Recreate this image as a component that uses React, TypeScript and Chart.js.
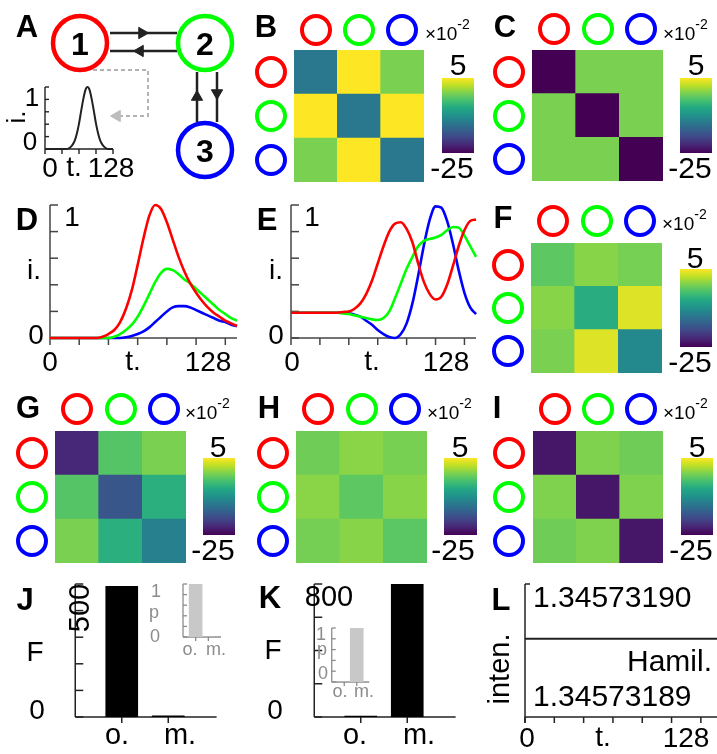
import React, { useEffect, useRef } from 'react';
import { Chart, registerables } from 'chart.js';

Chart.register(...registerables);

const FONT = '"Liberation Sans", Arial, Helvetica, sans-serif';
const RED = '#ff0000';
const GREEN = '#00ff00';
const BLUE = '#0000ff';

// ---------------- data ----------------
const TIME = [0, 4, 8, 12, 16, 20, 24, 28, 32, 36, 40, 44, 48, 52, 56, 60, 64, 68, 72, 76, 80, 84, 88, 92, 96, 100, 104, 108, 112, 116, 120, 124, 128];

// panel A inset: input pulse intensity
const PULSE = [0, 0, 0, 0, 0, 0, 0, 0, 0, 0, 0, 0.005, 0.03, 0.07, 0.135, 0.25, 0.41, 0.61, 0.8, 0.95, 1, 0.95, 0.8, 0.61, 0.41, 0.25, 0.135, 0.07, 0.03, 0.005, 0, 0, 0];

// panel D: intensities of the three nodes
const D_RED = [0, 0, 0, 0, 0, 0, 0, 0, 0, 0.01, 0.03, 0.06, 0.12, 0.22, 0.36, 0.55, 0.75, 0.92, 1.0, 0.97, 0.87, 0.74, 0.61, 0.5, 0.41, 0.34, 0.28, 0.23, 0.19, 0.16, 0.13, 0.11, 0.09];
const D_GREEN = [0, 0, 0, 0, 0, 0, 0, 0, 0, 0, 0, 0.01, 0.03, 0.06, 0.1, 0.16, 0.24, 0.33, 0.42, 0.49, 0.52, 0.51, 0.48, 0.44, 0.41, 0.37, 0.33, 0.29, 0.25, 0.21, 0.18, 0.15, 0.13];
const D_BLUE = [0, 0, 0, 0, 0, 0, 0, 0, 0, 0, 0, 0, 0, 0.005, 0.015, 0.03, 0.05, 0.08, 0.12, 0.16, 0.2, 0.23, 0.24, 0.24, 0.23, 0.21, 0.19, 0.17, 0.15, 0.13, 0.12, 0.1, 0.09];

// panel E
const E_RED = [0.19, 0.19, 0.19, 0.19, 0.19, 0.19, 0.19, 0.19, 0.19, 0.195, 0.2, 0.22, 0.26, 0.33, 0.43, 0.56, 0.69, 0.8, 0.86, 0.87, 0.82, 0.72, 0.56, 0.42, 0.33, 0.29, 0.31, 0.4, 0.54, 0.69, 0.81, 0.88, 0.89];
const E_GREEN = [0.19, 0.19, 0.19, 0.19, 0.19, 0.19, 0.19, 0.19, 0.19, 0.185, 0.18, 0.17, 0.16, 0.15, 0.14, 0.135, 0.15, 0.2, 0.3, 0.41, 0.52, 0.61, 0.69, 0.73, 0.745, 0.755, 0.775, 0.81, 0.835, 0.83, 0.77, 0.69, 0.61];
const E_BLUE = [0.19, 0.19, 0.19, 0.19, 0.19, 0.19, 0.19, 0.19, 0.19, 0.19, 0.185, 0.175, 0.16, 0.13, 0.1, 0.06, 0.03, 0.008, 0, 0.03, 0.11, 0.26, 0.47, 0.7, 0.89, 0.99, 0.98, 0.88, 0.71, 0.51, 0.34, 0.23, 0.18];

// heat maps (x10^-2), rows top -> bottom, columns left -> right
const HEAT_LABELS = ['1', '2', '3'];
const HEAT_B = [[-13, 5, -1], [5, -13, 5], [-1, 5, -13]];
const HEAT_C = [[-25, -1, -1], [-1, -25, -1], [-1, -1, -25]];
const HEAT_F = [[-2.6, -0.4, -1.2], [-0.4, -6.4, 3.5], [-1, 3.5, -11]];
const HEAT_G = [[-21.7, -3.1, -1], [-3.1, -17, -6.1], [-1, -6.1, -12.1]];
const HEAT_H = [[-1.6, -0.3, -1.1], [-0.3, -2.6, -0.4], [-1.3, -0.4, -2.8]];
const HEAT_I = [[-23.2, -0.8, -1.6], [-0.8, -23.2, -0.8], [-1.6, -0.8, -23.2]];
const CBAR_MIN = -25;
const CBAR_MAX = 5;

// bar panels
const BAR_CATEGORIES = ['o.', 'm.'];
const J_FREQ = [590, 5];
const J_PROB = [1, 0];
const K_FREQ = [5, 800];
const K_PROB = [0, 1];

// panel L
const L_TIME = [0, 131];
const L_HAMIL = [1.345731895, 1.345731895];
const L_MIN = 1.345731885;
const L_MAX = 1.345731902;

// panel A network (diagram units)
const NODE_LABELS = ['1', '2', '3'];
const NODE_X = [80, 205, 205];
const NODE_Y = [43, 43, 150];
const NODE_COLORS = [RED, GREEN, BLUE];
const EDGE_X1 = [110, 110, 197, 217];
const EDGE_Y1 = [33, 51, 122, 72];
const EDGE_X2 = [177, 177, 197, 217];
const EDGE_Y2 = [33, 51, 72, 122];
const ARROW_X = [142, 140, 197, 217];
const ARROW_Y = [33, 51, 97, 93];
const ARROW_ROT = [90, -90, 0, 180];
const PROBE_X = [93, 148, 148, 118];
const PROBE_Y = [70, 70, 116, 116];
const PROBE_ARROW_X = [117];
const PROBE_ARROW_Y = [116];

// ---------------- helpers ----------------
const VIRIDIS = [[68, 1, 84], [72, 36, 117], [65, 68, 135], [53, 95, 141], [42, 120, 142], [33, 145, 140], [34, 168, 132], [68, 191, 112], [122, 209, 81], [189, 223, 38], [253, 231, 37]];

function viridis(t: number) {
  const c = Math.max(0, Math.min(1, t)) * (VIRIDIS.length - 1);
  const i = Math.min(VIRIDIS.length - 2, Math.floor(c));
  const f = c - i;
  const a = VIRIDIS[i];
  const b = VIRIDIS[i + 1];
  const m = (k: number) => Math.round(a[k] + (b[k] - a[k]) * f);
  return `rgb(${m(0)},${m(1)},${m(2)})`;
}

type Box = [number, number, number, number];

function base(x: any, y: any, plugins: any[] = []) {
  return {
    responsive: false,
    maintainAspectRatio: false,
    animation: false,
    events: [],
    plugins: { legend: { display: false }, tooltip: { enabled: false } },
    scales: { x: { display: false, ...x }, y: { display: false, ...y } },
    _plugins: plugins,
  };
}

function axesPlugin(spec: any) {
  return {
    id: 'axesDraw',
    beforeDatasetsDraw(chart: any) {
      const ctx = chart.ctx;
      const xs = chart.scales.x;
      const ys = chart.scales.y;
      ctx.save();
      ctx.strokeStyle = spec.color;
      ctx.lineWidth = spec.width;
      const seg = (x1: number, y1: number, x2: number, y2: number) => {
        ctx.beginPath();
        ctx.moveTo(x1, y1);
        ctx.lineTo(x2, y2);
        ctx.stroke();
      };
      if (spec.y) {
        const x = xs.getPixelForValue(spec.y.at);
        seg(x, ys.getPixelForValue(spec.y.from) + (spec.y.ext || 0), x, ys.getPixelForValue(spec.y.to));
        spec.y.ticks.forEach((t: number) => {
          const y = ys.getPixelForValue(t);
          seg(x, y, x + spec.y.len, y);
        });
      }
      if (spec.x) {
        const y = ys.getPixelForValue(spec.x.at);
        seg(xs.getPixelForValue(spec.x.from), y, xs.getPixelForValue(spec.x.to), y);
        spec.x.ticks.forEach((t: number) => {
          const x = xs.getPixelForValue(t);
          seg(x, y, x, y + spec.x.len);
        });
      }
      ctx.restore();
    },
  };
}

function ChartBox({ canvas, plot, make }: { canvas: Box; plot: Box; make: () => any }) {
  const ref = useRef<HTMLCanvasElement | null>(null);
  useEffect(() => {
    const cfg = make();
    const plugins = cfg.options._plugins || [];
    delete cfg.options._plugins;
    cfg.plugins = plugins;
    cfg.options.layout = {
      autoPadding: false,
      padding: {
        left: plot[0] - canvas[0],
        top: plot[1] - canvas[1],
        right: canvas[0] + canvas[2] - plot[0] - plot[2],
        bottom: canvas[1] + canvas[3] - plot[1] - plot[3],
      },
    };
    const chart = new Chart(ref.current as HTMLCanvasElement, cfg);
    return () => chart.destroy();
  }, []);
  return (
    <canvas
      ref={ref}
      width={canvas[2]}
      height={canvas[3]}
      style={{ position: 'absolute', left: canvas[0], top: canvas[1], width: canvas[2], height: canvas[3] }}
    />
  );
}

function T({ x, y, children, size = 29, bold = false, color = '#000', align = 'c', rot = 0 }: any) {
  const tx = align === 'l' ? '0' : align === 'r' ? '-100%' : '-50%';
  return (
    <div
      style={{
        position: 'absolute',
        left: x,
        top: y,
        transform: `translate(${tx}, -50%) rotate(${rot}deg)`,
        fontFamily: FONT,
        fontSize: size,
        fontWeight: bold ? 700 : 400,
        lineHeight: 1,
        color,
        whiteSpace: 'nowrap',
      }}
    >
      {children}
    </div>
  );
}

function Ring({ x, y, color }: { x: number; y: number; color: string }) {
  return (
    <div
      style={{
        position: 'absolute',
        left: x - 16,
        top: y - 16,
        width: 32,
        height: 32,
        boxSizing: 'border-box',
        border: `4.5px solid ${color}`,
        borderRadius: '50%',
      }}
    />
  );
}

const pts = (xs: number[], ys: number[]) => xs.map((x, i) => ({ x, y: ys[i] }));

// ---------------- configs ----------------
function heatConfig(M: number[][]) {
  const rows = [2, 1, 0];
  return {
    type: 'bar',
    data: {
      labels: HEAT_LABELS,
      datasets: rows.map((r) => ({
        data: M[r].map(() => 1),
        backgroundColor: M[r].map((v) => viridis((v - CBAR_MIN) / (CBAR_MAX - CBAR_MIN))),
        borderWidth: 0,
        barPercentage: 1,
        categoryPercentage: 1,
      })),
    },
    options: base({ stacked: true }, { stacked: true, min: 0, max: 3 }),
  };
}

function cbarConfig() {
  return {
    type: 'bar',
    data: {
      labels: ['c'],
      datasets: [
        {
          data: [[CBAR_MIN, CBAR_MAX]],
          backgroundColor: (c: any) => {
            const a = c.chart.chartArea;
            if (!a) return '#888';
            const g = c.chart.ctx.createLinearGradient(0, a.bottom, 0, a.top);
            VIRIDIS.forEach((rgb, i) => g.addColorStop(i / (VIRIDIS.length - 1), `rgb(${rgb.join(',')})`));
            return g;
          },
          borderWidth: 0,
          barPercentage: 1,
          categoryPercentage: 1,
        },
      ],
    },
    options: base({}, { min: CBAR_MIN, max: CBAR_MAX }),
  };
}

function networkConfig() {
  const datasets: any[] = [];
  datasets.push({
    type: 'scatter',
    data: pts(NODE_X, NODE_Y),
    pointRadius: 27,
    pointBorderWidth: 4.5,
    pointBorderColor: NODE_COLORS,
    pointBackgroundColor: '#ffffff',
    clip: false,
  });
  datasets.push({
    type: 'scatter',
    data: pts(ARROW_X, ARROW_Y),
    pointStyle: 'triangle',
    pointRotation: ARROW_ROT,
    pointRadius: 6.5,
    pointBorderWidth: 1,
    pointBackgroundColor: '#222',
    pointBorderColor: '#222',
    clip: false,
  });
  datasets.push({
    type: 'scatter',
    data: pts(PROBE_ARROW_X, PROBE_ARROW_Y),
    pointStyle: 'triangle',
    pointRotation: -90,
    pointRadius: 6.5,
    pointBorderWidth: 1,
    pointBackgroundColor: '#bdbdbd',
    pointBorderColor: '#bdbdbd',
    clip: false,
  });
  EDGE_X1.forEach((_, i) => {
    datasets.push({
      type: 'line',
      data: [{ x: EDGE_X1[i], y: EDGE_Y1[i] }, { x: EDGE_X2[i], y: EDGE_Y2[i] }],
      borderColor: '#222',
      borderWidth: 2.5,
      pointRadius: 0,
      clip: false,
    });
  });
  datasets.push({
    type: 'line',
    data: pts(PROBE_X, PROBE_Y),
    borderColor: '#b3b3b3',
    borderWidth: 2,
    borderDash: [4, 3],
    pointRadius: 0,
    clip: false,
  });
  return {
    type: 'scatter',
    data: { datasets },
    options: base({ type: 'linear', min: 0, max: 240 }, { type: 'linear', min: 0, max: 190, reverse: true }),
  };
}

function linesConfig(series: { data: number[]; color: string }[], xMax: number, yMin: number, yMax: number, axes: any, width = 2.6) {
  return {
    type: 'line',
    data: {
      datasets: series.map((s) => ({
        data: pts(TIME, s.data),
        borderColor: s.color,
        borderWidth: width,
        pointRadius: 0,
        cubicInterpolationMode: 'monotone',
        clip: false,
      })),
    },
    options: base({ type: 'linear', min: 0, max: xMax }, { min: yMin, max: yMax }, [axesPlugin(axes)]),
  };
}

function barsConfig(values: number[], color: string, yMax: number, thickness: number, axes: any) {
  return {
    type: 'bar',
    data: {
      datasets: [
        {
          data: values.map((v, i) => ({ x: i + 1, y: v })),
          backgroundColor: color,
          borderWidth: 0,
          barThickness: thickness,
        },
      ],
    },
    options: base({ type: 'linear', min: 0, max: 3 }, { min: 0, max: yMax }, [axesPlugin(axes)]),
  };
}

function lConfig() {
  return {
    type: 'line',
    data: {
      datasets: [
        { data: pts(L_TIME, L_HAMIL), borderColor: '#222', borderWidth: 2.2, pointRadius: 0, clip: false },
      ],
    },
    options: base({ type: 'linear', min: 0, max: 131 }, { min: L_MIN, max: L_MAX }, [
      axesPlugin({
        color: '#222',
        width: 1.5,
        y: { at: 0, from: L_MIN, to: L_MAX, ext: 6, ticks: [L_MAX], len: 5 },
        x: { at: L_MIN, from: 0, to: 131, ticks: [0, 20, 40, 60, 80, 100, 120], len: 6 },
      }),
    ]),
  };
}

// ---------------- panels ----------------
function Exp({ x, y }: { x: number; y: number }) {
  return (
    <T x={x} y={y} size={19} align="l">
      ×10<span style={{ fontSize: 14, position: 'relative', top: -11 }}>-2</span>
    </T>
  );
}

function HeatPanel({ letter, lp, M, plot, cbar, ringTop, ringLeft, five, m25, exp }: any) {
  const [px, py, pw, ph] = plot;
  return (
    <>
      <ChartBox canvas={plot} plot={plot} make={() => heatConfig(M)} />
      <ChartBox canvas={cbar} plot={cbar} make={() => cbarConfig()} />
      {NODE_COLORS.map((c, i) => (
        <Ring key={'t' + i} x={px + (pw * (i + 0.5)) / 3} y={ringTop} color={c} />
      ))}
      {NODE_COLORS.map((c, i) => (
        <Ring key={'l' + i} x={ringLeft} y={py + (ph * (i + 0.5)) / 3} color={c} />
      ))}
      <T x={lp[0]} y={lp[1]} size={31} bold>{letter}</T>
      <T x={five[0]} y={five[1]} size={30}>5</T>
      <T x={m25[0]} y={m25[1]} size={30}>-25</T>
      <Exp x={exp[0]} y={exp[1]} />
    </>
  );
}

const TICKS_01 = [0, 0.2, 0.4, 0.6, 0.8, 1];
const TICKS_T = [0, 20, 40, 60, 80, 100, 120];

export default function App() {
  return (
    <div style={{ position: 'fixed', left: 0, top: 0, width: 717, height: 754, background: '#fff', overflow: 'hidden' }}>
      {/* Panel A */}
      <ChartBox canvas={[0, 0, 240, 190]} plot={[0, 0, 240, 190]} make={networkConfig} />
      <ChartBox
        canvas={[36, 80, 84, 76]}
        plot={[45, 87, 68, 62]}
        make={() =>
          linesConfig([{ data: PULSE, color: '#222' }], 128, 0, 1, {
            color: '#222',
            width: 1.4,
            y: { at: 0, from: 0, to: 1, ticks: TICKS_01, len: 4 },
            x: { at: 0, from: 0, to: 128, ticks: [0, 32, 64, 96, 128], len: 5 },
          }, 2)
        }
      />
      {NODE_LABELS.map((s, i) => (
        <T key={s} x={NODE_X[i]} y={NODE_Y[i] + 1} size={32} bold>{s}</T>
      ))}
      <T x={27} y={26} size={31} bold>A</T>
      <T x={32} y={97} size={26}>1</T>
      <T x={30} y={141} size={26}>0</T>
      <T x={16} y={117} size={26} rot={-90}>i.</T>
      <T x={50} y={168} size={28}>0</T>
      <T x={74} y={167} size={28}>t.</T>
      <T x={111} y={168} size={28}>128</T>

      {/* Heat panels */}
      <HeatPanel letter="B" lp={[266, 26]} M={HEAT_B} plot={[294, 50, 130, 132]} cbar={[442, 78, 32, 75]} ringTop={30} ringLeft={271} five={[458, 65]} m25={[452, 168]} exp={[425, 33]} />
      <HeatPanel letter="C" lp={[505, 26]} M={HEAT_C} plot={[532, 50, 131, 131]} cbar={[680, 78, 32, 75]} ringTop={29} ringLeft={509} five={[696, 65]} m25={[690, 168]} exp={[663, 33]} />
      <HeatPanel letter="F" lp={[503, 217]} M={HEAT_F} plot={[531, 243, 131, 130]} cbar={[680, 269, 32, 78]} ringTop={221} ringLeft={508} five={[695, 258]} m25={[690, 362]} exp={[662, 223]} />
      <HeatPanel letter="G" lp={[28, 407]} M={HEAT_G} plot={[55, 431, 131, 132]} cbar={[203, 458, 32, 77]} ringTop={409} ringLeft={32} five={[218, 447]} m25={[213, 550]} exp={[185, 412]} />
      <HeatPanel letter="H" lp={[269, 407]} M={HEAT_H} plot={[296, 431, 131, 132]} cbar={[444, 458, 33, 77]} ringTop={409} ringLeft={273} five={[460, 447]} m25={[453, 550]} exp={[427, 412]} />
      <HeatPanel letter="I" lp={[497, 407]} M={HEAT_I} plot={[533, 431, 130, 132]} cbar={[681, 458, 32, 77]} ringTop={409} ringLeft={509} five={[697, 447]} m25={[691, 550]} exp={[663, 412]} />

      {/* Panel D */}
      <ChartBox
        canvas={[40, 198, 200, 152]}
        plot={[50, 205, 187, 133]}
        make={() =>
          linesConfig(
            [
              { data: D_RED, color: RED },
              { data: D_GREEN, color: GREEN },
              { data: D_BLUE, color: BLUE },
            ],
            128, 0, 1,
            { color: '#444', width: 1.5, y: { at: 0, from: 0, to: 1, ticks: TICKS_01, len: 8 }, x: { at: 0, from: 0, to: 128, ticks: TICKS_T, len: 7 } }
          )
        }
      />
      <T x={27} y={219} size={31} bold>D</T>
      <T x={72} y={217} size={28}>1</T>
      <T x={34} y={270} size={28}>i.</T>
      <T x={36} y={335} size={28}>0</T>
      <T x={50} y={362} size={28}>0</T>
      <T x={133} y={361} size={28}>t.</T>
      <T x={208} y={362} size={28}>128</T>

      {/* Panel E */}
      <ChartBox
        canvas={[281, 198, 198, 152]}
        plot={[291, 205, 185, 133]}
        make={() =>
          linesConfig(
            [
              { data: E_RED, color: RED },
              { data: E_GREEN, color: GREEN },
              { data: E_BLUE, color: BLUE },
            ],
            128, 0, 1,
            { color: '#444', width: 1.5, y: { at: 0, from: 0, to: 1, ticks: TICKS_01, len: 8 }, x: { at: 0, from: 0, to: 128, ticks: TICKS_T, len: 7 } }
          )
        }
      />
      <T x={267} y={219} size={31} bold>E</T>
      <T x={312} y={217} size={28}>1</T>
      <T x={276} y={270} size={28}>i.</T>
      <T x={276} y={335} size={28}>0</T>
      <T x={292} y={362} size={28}>0</T>
      <T x={372} y={361} size={28}>t.</T>
      <T x={446} y={362} size={28}>128</T>

      {/* Panel J */}
      <ChartBox
        canvas={[42, 576, 198, 150]}
        plot={[52, 584, 186, 133]}
        make={() =>
          barsConfig(J_FREQ, '#000', 600, 32, {
            color: '#222', width: 1.5,
            y: { at: 0, from: 0, to: 600, ticks: [0, 120, 240, 360, 480, 600], len: 8 },
            x: { at: 0, from: 0, to: 3.04, ticks: [1, 2], len: 6 },
          })
        }
      />
      <ChartBox
        canvas={[156, 578, 84, 66]}
        plot={[164, 584, 76, 53]}
        make={() =>
          barsConfig(J_PROB, '#c8c8c8', 1, 13, {
            color: '#8c8c8c', width: 1.3,
            y: { at: 0, from: 0, to: 1, ticks: TICKS_01, len: 4 },
            x: { at: 0, from: 0, to: 3, ticks: [1, 2], len: 4 },
          })
        }
      />
      <T x={25} y={599} size={31} bold>J</T>
      <T x={79} y={608} size={29} rot={-90}>500</T>
      <T x={35} y={652} size={28}>F</T>
      <T x={37} y={710} size={28}>0</T>
      <T x={117} y={734} size={29}>{BAR_CATEGORIES[0]}</T>
      <T x={180} y={734} size={29}>{BAR_CATEGORIES[1]}</T>
      <T x={156} y={591} size={18} color="#8c8c8c">1</T>
      <T x={154} y={612} size={18} color="#8c8c8c">p</T>
      <T x={155} y={636} size={18} color="#8c8c8c">0</T>
      <T x={190} y={649} size={18} color="#8c8c8c">{BAR_CATEGORIES[0]}</T>
      <T x={216} y={649} size={18} color="#8c8c8c">{BAR_CATEGORIES[1]}</T>

      {/* Panel K */}
      <ChartBox
        canvas={[281, 576, 198, 150]}
        plot={[291, 584, 186, 133]}
        make={() =>
          barsConfig(K_FREQ, '#000', 800, 32, {
            color: '#222', width: 1.5,
            y: { at: 0, from: 0, to: 800, ticks: [0, 200, 400, 600, 800], len: 8 },
            x: { at: 0, from: 0, to: 3.04, ticks: [1, 2], len: 6 },
          })
        }
      />
      <ChartBox
        canvas={[305, 620, 90, 70]}
        plot={[313, 628, 75, 54]}
        make={() =>
          barsConfig(K_PROB, '#c8c8c8', 1, 13, {
            color: '#8c8c8c', width: 1.3,
            y: { at: 0, from: 0, to: 1, ticks: TICKS_01, len: 4 },
            x: { at: 0, from: 0, to: 3, ticks: [1, 2], len: 4 },
          })
        }
      />
      <T x={270} y={597} size={31} bold>K</T>
      <T x={329} y={596} size={29}>800</T>
      <T x={273} y={650} size={28}>F</T>
      <T x={275} y={710} size={28}>0</T>
      <T x={355} y={734} size={29}>{BAR_CATEGORIES[0]}</T>
      <T x={419} y={734} size={29}>{BAR_CATEGORIES[1]}</T>
      <T x={321} y={634} size={18} color="#8c8c8c">1</T>
      <T x={322} y={649} size={18} color="#8c8c8c">p</T>
      <T x={323} y={673} size={18} color="#8c8c8c">0</T>
      <T x={340} y={691} size={18} color="#8c8c8c">{BAR_CATEGORIES[0]}</T>
      <T x={364} y={691} size={18} color="#8c8c8c">{BAR_CATEGORIES[1]}</T>

      {/* Panel L */}
      <ChartBox canvas={[515, 576, 202, 154]} plot={[525, 584, 192, 133]} make={lConfig} />
      <T x={501} y={599} size={31} bold>L</T>
      <T x={533} y={597} size={30} align="l">1.34573190</T>
      <T x={712} y={661} size={30} align="r">Hamil.</T>
      <T x={533} y={696} size={30} align="l">1.34573189</T>
      <T x={499} y={669} size={29} rot={-90}>inten.</T>
      <T x={527} y={738} size={28}>0</T>
      <T x={603} y={737} size={28}>t.</T>
      <T x={686} y={738} size={28}>128</T>
    </div>
  );
}
